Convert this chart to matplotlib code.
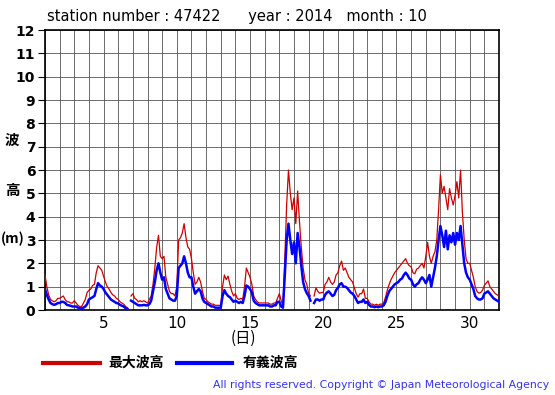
import numpy as np
import matplotlib
matplotlib.use("Agg")
import matplotlib.pyplot as plt

nan = np.nan
# 3-hourly values, day 1 00h ... day 31 21h, then day 32 00h
sig_wave = [
    0.9, 0.65, 0.45, 0.3, 0.25, 0.22, 0.25, 0.3,      # 1
    0.3, 0.35, 0.35, 0.3, 0.22, 0.2, 0.18, 0.15,      # 2
    0.15, 0.15, 0.1, 0.08, 0.07, 0.1, 0.15, 0.25,     # 3
    0.45, 0.5, 0.55, 0.6, 0.9, 1.15, 1.05, 1.0,       # 4
    0.9, 0.75, 0.65, 0.55, 0.45, 0.4, 0.35, 0.3,      # 5
    0.28, 0.22, 0.18, 0.15, 0.08, 0.05, nan, 0.4,     # 6
    0.35, 0.3, 0.25, 0.2, 0.2, 0.2, 0.22, 0.2,        # 7
    0.2, 0.25, 0.4, 0.8, 1.2, 1.7, 2.0, 1.6,          # 8
    1.3, 1.4, 0.9, 0.7, 0.5, 0.45, 0.4, 0.4,          # 9
    0.6, 1.8, 1.9, 2.0, 2.3, 2.0, 1.6, 1.4,           # 10
    1.4, 1.0, 0.7, 0.8, 0.9, 0.8, 0.5, 0.35,          # 11
    0.3, 0.25, 0.2, 0.15, 0.15, 0.1, 0.1, 0.1,        # 12
    0.1, 0.6, 0.85, 0.7, 0.6, 0.55, 0.45, 0.35,       # 13
    0.4, 0.35, 0.3, 0.35, 0.3, 0.6, 1.05, 1.0,        # 14
    0.9, 0.75, 0.4, 0.3, 0.25, 0.2, 0.2, 0.2,         # 15
    0.2, 0.2, 0.2, 0.15, 0.15, 0.2, 0.2, 0.35,        # 16
    0.35, 0.15, 0.1, 1.5, 3.0, 3.7, 3.0, 2.4,         # 17
    2.9, 2.0, 3.3, 2.7, 1.9, 1.2, 0.9, 0.72,          # 18
    0.6, 0.4, nan, 0.3, 0.45, 0.45, 0.4, 0.45,        # 19
    0.45, 0.65, 0.75, 0.8, 0.7, 0.6, 0.65, 0.85,      # 20
    0.95, 1.1, 1.15, 1.0, 1.0, 0.95, 0.85, 0.75,      # 21
    0.7, 0.6, 0.45, 0.3, 0.35, 0.35, 0.45, 0.3,       # 22
    0.35, 0.22, 0.15, 0.15, 0.12, 0.15, 0.12, 0.15,   # 23
    0.15, 0.2, 0.35, 0.6, 0.8, 0.9, 1.0, 1.1,         # 24
    1.15, 1.2, 1.3, 1.35, 1.5, 1.6, 1.5, 1.35,        # 25
    1.3, 1.1, 1.0, 1.1, 1.15, 1.3, 1.4, 1.3,          # 26
    1.15, 1.3, 1.5, 1.0, 1.4, 1.8, 2.3, 3.0,          # 27
    3.6, 3.2, 2.7, 3.4, 2.6, 3.2, 2.9, 3.3,           # 28
    2.8, 3.3, 3.0, 3.6, 2.8, 2.0, 1.6, 1.4,           # 29
    1.3, 1.1, 0.9, 0.6, 0.5, 0.45, 0.45, 0.5,         # 30
    0.7, 0.75, 0.8, 0.7, 0.6, 0.5, 0.45, 0.4,         # 31
    0.35,
]
max_wave = [
    1.5, 1.0, 0.65, 0.45, 0.4, 0.35, 0.4, 0.5,        # 1
    0.5, 0.55, 0.6, 0.45, 0.35, 0.35, 0.3, 0.3,       # 2
    0.4, 0.3, 0.2, 0.15, 0.15, 0.3, 0.45, 0.75,       # 3
    0.85, 0.9, 1.05, 1.1, 1.6, 1.9, 1.8, 1.7,         # 4
    1.45, 1.2, 1.0, 0.9, 0.75, 0.65, 0.6, 0.5,        # 5
    0.45, 0.35, 0.3, 0.25, 0.15, 0.1, nan, 0.6,       # 6
    0.7, 0.5, 0.45, 0.35, 0.4, 0.35, 0.4, 0.35,       # 7
    0.3, 0.45, 0.6, 1.1, 1.8, 2.7, 3.2, 2.3,          # 8
    2.2, 2.3, 1.4, 1.1, 0.8, 0.7, 0.7, 0.6,           # 9
    1.0, 3.0, 3.1, 3.3, 3.7, 3.1, 2.7, 2.6,           # 10
    2.2, 1.6, 1.1, 1.2, 1.4, 1.2, 0.8, 0.5,           # 11
    0.45, 0.35, 0.3, 0.25, 0.25, 0.2, 0.2, 0.2,       # 12
    0.2, 1.0, 1.5, 1.3, 1.45, 1.1, 0.8, 0.6,          # 13
    0.7, 0.5, 0.45, 0.5, 0.45, 1.0, 1.8, 1.6,         # 14
    1.4, 1.1, 0.6, 0.45, 0.35, 0.3, 0.3, 0.3,         # 15
    0.3, 0.3, 0.3, 0.25, 0.25, 0.3, 0.3, 0.5,         # 16
    0.7, 0.4, 0.2, 2.2, 4.5, 6.0, 5.0, 4.3,           # 17
    4.8, 3.7, 5.1, 3.8, 2.7, 1.8, 1.3, 1.1,           # 18
    0.72, 0.6, nan, 0.6, 0.95, 0.8, 0.72, 0.75,       # 19
    0.75, 1.1, 1.2, 1.4, 1.2, 1.1, 1.2, 1.5,          # 20
    1.6, 1.9, 2.1, 1.7, 1.8, 1.6, 1.4, 1.3,           # 21
    1.2, 0.95, 0.7, 0.55, 0.7, 0.7, 0.9, 0.5,         # 22
    0.5, 0.35, 0.25, 0.25, 0.2, 0.25, 0.2, 0.25,      # 23
    0.25, 0.3, 0.55, 0.85, 1.1, 1.3, 1.45, 1.6,       # 24
    1.7, 1.8, 1.9, 2.0, 2.1, 2.2, 2.0, 1.9,           # 25
    1.85, 1.6, 1.55, 1.75, 1.8, 1.9, 2.0, 1.8,        # 26
    2.3, 2.9, 2.3, 2.0, 2.3, 2.5, 3.0, 4.3,           # 27
    5.8, 5.0, 5.3, 4.8, 4.3, 5.2, 4.8, 4.5,           # 28
    4.9, 5.5, 4.8, 6.0, 4.2, 3.0, 2.2, 2.0,           # 29
    2.0, 1.7, 1.4, 1.0, 0.8, 0.72, 0.75, 0.85,        # 30
    1.05, 1.15, 1.25, 1.0, 0.9, 0.8, 0.7, 0.65,       # 31
    0.6,
]
x_ticks = [5, 10, 15, 20, 25, 30]
y_ticks = list(range(0, 13))
title_text = "station number : 47422      year : 2014   month : 10"

days = 1 + np.arange(len(sig_wave)) / 8.0

W, H = 555, 395
fig = plt.figure(figsize=(W / 100, H / 100), dpi=100)
fig.patch.set_facecolor("white")
L, R, T, B = 45, 499, 30, 310
ax = fig.add_axes([L / W, 1 - B / H, (R - L) / W, (B - T) / H])

ax.plot(days, max_wave, color="#cc0000", lw=0.9, zorder=3)
ax.plot(days, sig_wave, color="#0000ff", lw=1.8, zorder=4)

ax.set_xlim(1, 32)
ax.set_ylim(0, 12)
ax.set_xticks(np.arange(1, 33), minor=True)
ax.set_xticks(x_ticks)
ax.set_yticks(y_ticks)
ax.grid(True, which="both", color="#555555", lw=0.6)
ax.set_axisbelow(True)
ax.tick_params(axis="x", which="both", length=0, labelsize=11, pad=4)
ax.tick_params(axis="y", length=5, width=0.8, labelsize=10, pad=2)
for lbl in ax.get_yticklabels():
    lbl.set_fontweight("bold")
for s in ax.spines.values():
    s.set_linewidth(1.2)
    s.set_color("black")

cjk = ["Noto Sans CJK JP", "DejaVu Sans"]
fig.text(47 / W, 1 - 16 / H, title_text, fontsize=10.5, va="center", ha="left")
fig.text(12 / W, 1 - 140 / H, "波", fontsize=10.5, fontweight="bold", family=cjk, ha="center", va="center")
fig.text(12 / W, 1 - 190 / H, "高", fontsize=10.5, fontweight="bold", family=cjk, ha="center", va="center")
fig.text(13 / W, 1 - 239 / H, "(m)", fontsize=10, fontweight="bold", family=cjk, ha="center", va="center")
fig.text(243 / W, 1 - 338 / H, "(日)", fontsize=11, family=cjk, ha="center", va="center")

# legend
fig.lines.append(plt.Line2D([43 / W, 100 / W], [1 - 363 / H] * 2, color="#cc0000", lw=3, transform=fig.transFigure))
fig.text(108 / W, 1 - 363 / H, "最大波高", fontsize=10, fontweight="bold", family=cjk, ha="left", va="center")
fig.lines.append(plt.Line2D([177 / W, 232 / W], [1 - 363 / H] * 2, color="#0000ff", lw=3, transform=fig.transFigure))
fig.text(243 / W, 1 - 363 / H, "有義波高", fontsize=10, fontweight="bold", family=cjk, ha="left", va="center")
fig.text(549 / W, 1 - 385 / H, "All rights reserved. Copyright \u00a9 Japan Meteorological Agency",
         fontsize=7.8, color="#3333ee", ha="right", va="center")

fig.savefig("out.png", dpi=100)
